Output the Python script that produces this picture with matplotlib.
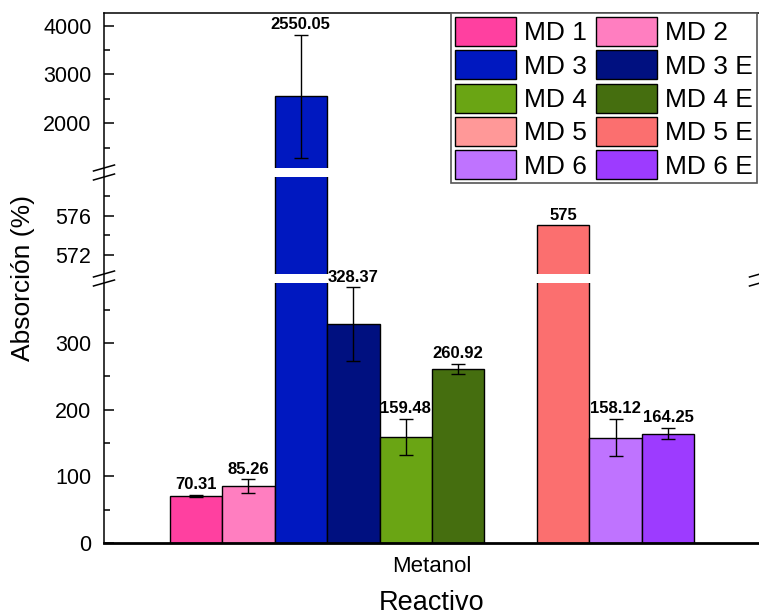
import numpy as np
import matplotlib
matplotlib.use('Agg')
import matplotlib.pyplot as plt
from matplotlib.lines import Line2D

plt.rcParams['font.family'] = ['Liberation Sans', 'DejaVu Sans']

# ---------------- data ----------------
category = ['Metanol']
series = ['MD 1', 'MD 2', 'MD 3', 'MD 3 E', 'MD 4', 'MD 4 E',
          'MD 5', 'MD 5 E', 'MD 6', 'MD 6 E']
values = [70.31, 85.26, 2550.05, 328.37, 159.48, 260.92,
          np.nan, 575, 158.12, 164.25]
errors = [2.0, 10.0, 1257.0, 55.0, 27.0, 7.7,
          np.nan, np.nan, 27.7, 8.5]
colors = ['#FF40A0', '#FF7EC0', '#0018C0', '#001080', '#6AA514', '#456E0F',
          '#FF9898', '#FB6F6F', '#BF73FF', '#9D3BFF']

# axis segments (broken y axis)
seg_top = (1084, 4260)
seg_mid = (570, 580)
seg_bot = (0, 390)
top_major, top_minor = [2000, 3000, 4000], [1500, 2500, 3500]
mid_major, mid_minor = [572, 576], [574, 578]
bot_major, bot_minor = [0, 100, 200, 300], [50, 150, 250, 350]

# ---------------- layout ----------------
W, H = 759, 615
fig = plt.figure(figsize=(W / 100, H / 100), dpi=100)

def fx(px):
    return px / W

def fy(py):
    return 1 - py / H

left, right = 104, 760
aw = (right - left) / W
ax_top = fig.add_axes([fx(left), fy(168), aw, (168 - 13) / H])
ax_mid = fig.add_axes([fx(left), fy(274), aw, (274 - 177) / H])
ax_bot = fig.add_axes([fx(left), fy(543), aw, (543 - 283) / H])
axes = [ax_top, ax_mid, ax_bot]
segs = [seg_top, seg_mid, seg_bot]
majors = [top_major, mid_major, bot_major]
minors = [top_minor, mid_minor, bot_minor]

n = len(series)
width = 0.08
xpos = np.arange(len(category))[0] + (np.arange(n) - (n - 1) / 2) * width
vals = np.array(values, dtype=float)
errs = np.array(errors, dtype=float)

handles = None
for ax, seg, mj, mn in zip(axes, segs, majors, minors):
    ax.set_facecolor('none')
    bars = ax.bar(xpos, vals, width=width, color=colors, edgecolor='black',
                  linewidth=1.0, zorder=2)
    if ax is ax_bot:
        handles = bars.patches
    m = ~np.isnan(errs)
    ax.errorbar(xpos[m], vals[m], yerr=errs[m], fmt='none', ecolor='black',
                elinewidth=1.0, capsize=5, capthick=1.0, zorder=3)
    ax.set_ylim(*seg)
    ax.set_xlim(-0.5, 0.5)
    ax.set_yticks(mj)
    ax.set_yticks(mn, minor=True)
    ax.tick_params(axis='y', which='major', direction='in', length=7.5,
                   width=1.1, labelsize=15.5, pad=9)
    ax.tick_params(axis='y', which='minor', direction='in', length=4,
                   width=1.1)
    for s in ['left', 'right', 'top', 'bottom']:
        ax.spines[s].set_visible(False)
    if ax is not ax_bot:
        ax.set_xticks([])

ax_top.spines['top'].set_visible(True)
ax_top.spines['top'].set_linewidth(1.1)
ax_bot.spines['bottom'].set_visible(True)
ax_bot.spines['bottom'].set_linewidth(2.0)
ax_bot.set_xticks([0], category)
ax_bot.tick_params(axis='x', length=0, labelsize=16, pad=9)

# value labels
for i in range(n):
    v = vals[i]
    if np.isnan(v):
        continue
    e = 0 if np.isnan(errs[i]) else errs[i]
    yt = v + e
    for ax, seg in zip(axes, segs):
        if seg[0] <= yt <= seg[1]:
            ax.annotate(f"{v:g}", xy=(xpos[i], yt), xytext=(0, 2),
                        textcoords='offset points', ha='center', va='bottom',
                        fontsize=12, fontweight='bold', zorder=5,
                        annotation_clip=False)
            break

# continuous left spine
fig.add_artist(Line2D([fx(left), fx(left)], [fy(13), fy(543)],
                      transform=fig.transFigure, color='black', lw=1.1))

# break marks
def slash(xc, yc):
    for dy in (-4.5, 4.5):
        fig.add_artist(Line2D([fx(xc - 10.5), fx(xc + 10.5)],
                              [fy(yc + dy + 3), fy(yc + dy - 3)],
                              transform=fig.transFigure, color='black',
                              lw=1.1))

slash(left, 172.5)
slash(left, 278.5)
slash(right, 278.5)

# axis titles
fig.text(fx(23), fy(278), 'Absorción (%)', rotation=90, fontsize=19,
         ha='center', va='center')
fig.text(fx(432), fy(603), 'Reactivo', fontsize=19.5, ha='center',
         va='center')

# legend (row-major order in 2 columns)
order = [0, 2, 4, 6, 8, 1, 3, 5, 7, 9]
leg = fig.legend([handles[k] for k in order], [series[k] for k in order],
                 loc='upper left', bbox_to_anchor=(fx(451), fy(13)), ncol=2,
                 fontsize=19, frameon=True, fancybox=False,
                 edgecolor='#555555', framealpha=1, handlelength=2.3,
                 handleheight=1.32, handletextpad=0.3, columnspacing=0.38,
                 labelspacing=0.16, borderpad=0.15, borderaxespad=0)
leg.get_frame().set_linewidth(1.2)

fig.savefig('out.png', dpi=100)
